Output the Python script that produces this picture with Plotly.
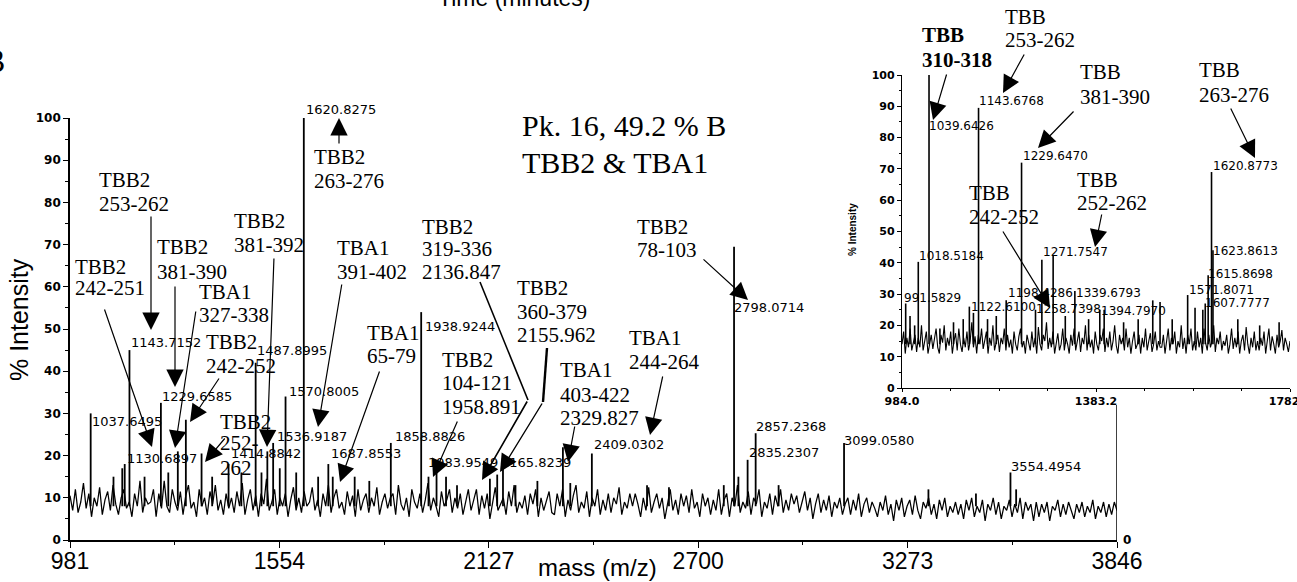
import numpy as np
import plotly.graph_objects as go

W, H = 1297, 582

# ---------------- main spectrum (981 - 3846 m/z) ----------------
main_range = [981, 3846]
main_ticks = [981, 1554, 2127, 2700, 3273, 3846]

main_noise = [
    10.5, 7, 12, 6.5, 9, 13.5, 7.5, 11, 5.5, 10, 8, 12.5, 6, 9.5, 11.5, 7, 13, 8.5, 6, 10, 12, 7.5, 9, 5.5, 11, 8, 14, 6.5, 10, 8.5,
    9, 12, 5.5, 11, 7.5, 14, 8, 6.5, 12, 9, 7, 11.5, 6, 10.5, 13, 7.5, 9, 5.5, 12, 8, 10, 6, 11.5, 8.5, 13, 7, 9.5, 6, 11, 7.5,
    10, 6.5, 11.5, 8, 13.5, 6, 9.5, 12, 7, 10.5, 5.5, 11, 8.5, 14.5, 7, 9, 12, 6, 10, 8, 11, 5.5, 9.5, 12.5, 7, 10, 6.5, 11.5, 8, 9,
    12.5, 7, 9.5, 5.5, 11, 8, 13, 6.5, 10, 12, 7.5, 9, 6, 11.5, 8, 10.5, 5.5, 12, 7, 9.5, 11, 6.5, 10, 8, 12.5, 6, 9, 11, 7.5, 10,
    11, 6, 13, 8.5, 7, 10, 5.5, 12, 9, 7.5, 11, 6.5, 9.5, 13.5, 7, 10, 8, 5.5, 11.5, 8, 9.5, 12, 6.5, 10, 7.5, 11, 6, 9, 12, 7,
    9.5, 12, 6, 10.5, 7.5, 11, 5, 9, 12.5, 7, 8.5, 10, 6, 11.5, 8, 13, 6.5, 9, 7.5, 10.5, 6, 11, 8.5, 12, 5.5, 10, 7, 9.5, 11.5, 6.5,
    6, 11, 8, 12, 5.5, 9.5, 7, 10.5, 13, 6.5, 9, 7.5, 11.5, 5.5, 10, 8, 12, 6, 9.5, 7, 11, 6.5, 10, 8.5, 12.5, 6, 9, 7.5, 11, 8,
    11, 8.5, 5.5, 10, 7, 12.5, 6.5, 9, 11, 7.5, 10, 5, 8.5, 12, 7, 9.5, 6, 11, 8, 10.5, 6.5, 12, 7.5, 9, 5.5, 11, 8, 10, 6, 9.5,
    7, 12, 6, 9.5, 11, 5.5, 10, 8, 13, 6.5, 9, 7.5, 11.5, 6, 10, 8.5, 12, 5.5, 9, 7.5, 11, 6, 10.5, 8, 12, 6.5, 9.5, 7, 11, 8.5,
    10.5, 6.5, 9, 11.5, 7, 10, 5, 8.5, 11, 6.5, 9.5, 7, 10.5, 5.5, 9, 7.5, 10, 6, 8.5, 10, 6, 9.5, 7, 11, 5.5, 8.5, 10, 6.5, 9, 7.5,
    5.5, 9, 7, 10.5, 6, 8.5, 4.5, 9.5, 7, 10, 5.5, 8, 9.5, 6, 10.5, 7, 5, 9, 7.5, 10, 6, 8.5, 5, 9.5, 7, 10, 5.5, 8, 6.5, 9,
    6, 8.5, 5, 9.5, 7, 10, 5.5, 8, 6.5, 9.5, 4.5, 8.5, 7, 10, 6, 9, 5, 8, 7, 9.5, 5.5, 8.5, 6.5, 10, 5, 9, 7, 8.5, 4.5, 9,
    5.5, 8.5, 6.5, 9, 4.5, 8, 7, 9.5, 5.5, 8.5, 6, 9, 7, 5, 8.5, 6.5, 9, 5.5, 8, 6.5, 9.5, 5, 8, 6.5, 9, 5.5, 8.5, 6, 9, 7,
]

main_peak_mass = [1037.6, 1100, 1124, 1130.7, 1143.7, 1185, 1229.7, 1250, 1276, 1298,
                  1341, 1370, 1414.9, 1450, 1489, 1505, 1521, 1536.9, 1555, 1570.8,
                  1600, 1620.8, 1660, 1687.9, 1700, 1760, 1800, 1858.9, 1942, 1962,
                  1984, 2010, 2040, 2130, 2150, 2165.8, 2200, 2260, 2329.8, 2350,
                  2409, 2560, 2620, 2770, 2798.1, 2810, 2835.2, 2857.2, 2920, 3099.1,
                  3330, 3460, 3554.5, 3570]
main_peak_int = [30, 15, 17, 18, 45, 15, 32.5, 16, 21, 28.5,
                 20.5, 15, 18, 16, 42, 16, 21, 23, 17, 34,
                 16, 100, 15, 18, 15, 15, 14, 23, 54, 15,
                 16, 15, 13, 14.5, 15.5, 17, 13, 14, 22, 13.5,
                 20.5, 13, 12.5, 13, 69.5, 15, 19, 25.3, 13, 23,
                 12, 11, 16, 12]

main_label_text = ["1037.6495", "1130.6897", "1143.7152", "1229.6585", "1414.8842",
                   "1487.8995", "1536.9187", "1570.8005", "1620.8275", "1687.8553",
                   "1858.8826", "1938.9244", "1983.9549", "2165.8239", "2409.0302",
                   "2798.0714", "2835.2307", "2857.2368", "3099.0580", "3554.4954"]
main_label_mass = [1037.6, 1135, 1144, 1230, 1419, 1490, 1545, 1577, 1624, 1692,
                   1868, 1950, 1958, 2158, 2412, 2795, 2836, 2855, 3096, 3553]
main_label_int = [28.0, 19.2, 46.8, 34.1, 20.4, 44.8, 24.6, 35.3, 102.1, 20.4,
                  24.6, 50.5, 18.4, 18.4, 22.7, 55.1, 20.7, 27.0, 23.5, 17.5]

# ---------------- inset spectrum (984.0 - 1782.4 m/z) ----------------
inset_range = [984.0, 1782.4]
inset_ticks = [984.0, 1383.2, 1782.4]

inset_noise = [
    14, 18, 11, 16, 13, 19, 12, 15, 17, 11.5, 16, 13, 20, 12, 15.5, 18, 11, 14, 17, 12.5,
    16, 19, 13, 11, 17, 14.5, 20, 12, 16, 13.5, 18, 11, 15, 17.5, 12, 19, 14, 11.5, 16, 13,
    18, 12, 15, 21, 13, 16.5, 11, 17, 14, 19, 12.5, 15, 18, 11, 16, 13.5, 20, 12, 15, 17,
    11.5, 16, 14, 19, 12, 17, 13, 15.5, 11, 18, 14, 12, 16.5, 19, 13, 15, 11, 17, 14.5, 12,
    18, 13, 16, 11, 19.5, 14, 12, 17, 15, 21, 12.5, 16, 13, 18, 11, 15, 17.5, 12, 14, 19,
    12, 16, 14, 11, 17, 13.5, 19, 12, 15, 18, 11.5, 16, 14, 20, 12, 17, 13, 15.5, 11, 18,
    14, 12, 17, 15, 19, 11.5, 16, 13, 18, 12, 15, 20, 13.5, 11, 17, 14, 16, 12, 19, 13,
    16, 11, 15, 18, 12.5, 14, 17, 11, 16, 13, 19, 12, 15, 17.5, 11.5, 14, 18, 12, 15, 13,
    13, 17, 11, 15.5, 19, 12, 16, 14, 18, 11, 15, 13, 20, 12.5, 16, 11, 17, 14, 19, 12,
    15, 12, 18, 13, 16, 11, 19, 14.5, 12, 17, 13, 15, 20, 11.5, 16, 14, 18, 12, 15, 13.5,
    17, 11, 14, 19, 12.5, 16, 13, 18, 11, 15, 17, 12, 19.5, 14, 11, 16, 13, 18, 12, 15,
    12, 16, 13.5, 18, 11, 15, 19, 12, 16.5, 14, 11, 17, 13, 15, 18.5, 12, 16, 14, 11.5, 15,
]

inset_peak_mass = [991.6, 1000.5, 1010, 1017.5, 1039.6, 1062, 1090, 1110, 1122.6, 1131,
                   1141.5, 1160, 1178, 1198.4, 1230, 1258.7, 1271.8, 1295, 1320, 1339.7,
                   1368, 1391, 1400, 1440, 1470, 1500, 1515, 1540, 1571.8, 1587,
                   1603, 1608, 1614, 1620.9, 1623.9, 1675, 1720, 1760]
inset_peak_int = [27, 23, 20, 40.3, 100, 19, 21, 22, 26, 24,
                  89.5, 22, 23, 28, 72, 25, 41, 42.5, 23, 31,
                  22, 25, 25, 21, 22, 28, 27.5, 22, 29.7, 25.6,
                  25, 27, 36, 69, 44, 22, 20, 21]

inset_label_text = ["991.5829", "1018.5184", "1039.6426", "1122.6100", "1143.6768",
                    "1198.4286", "1229.6470", "1258.7398", "1271.7547", "1339.6793",
                    "1394.7970", "1571.8071", "1607.7777", "1615.8698", "1620.8773",
                    "1623.8613"]
inset_label_mass = [987, 1017, 1037.5, 1124, 1140, 1200, 1231, 1258, 1272, 1340,
                    1391, 1572.5, 1605, 1611, 1622, 1622]
inset_label_int = [28.9, 42.2, 83.7, 25.9, 91.7, 30.5, 74.1, 25.2, 43.3, 30.5,
                   24.6, 31.3, 27.3, 36.4, 70.9, 43.8]


def sticks(masses, ints, base):
    xs, ys = [], []
    for m, v in zip(masses, ints):
        xs += [m, m, None]
        ys += [base, v, None]
    return xs, ys


def px(x):
    return x / W


def py(y):
    return 1 - y / H


MAIN_PX_PER_UNIT = (540 - 118) / 100.0

fig = go.Figure()

main_x = np.linspace(main_range[0], main_range[1], len(main_noise))
fig.add_trace(go.Scatter(x=main_x, y=main_noise, mode="lines",
                         line=dict(color="black", width=1.25), xaxis="x", yaxis="y",
                         hoverinfo="skip"))
sx, sy = sticks(main_peak_mass, main_peak_int, 8)
fig.add_trace(go.Scatter(x=sx, y=sy, mode="lines", line=dict(color="black", width=1.8),
                         xaxis="x", yaxis="y", hoverinfo="skip"))

inset_x = np.linspace(inset_range[0], inset_range[1], len(inset_noise))
fig.add_trace(go.Scatter(x=inset_x, y=inset_noise, mode="lines",
                         line=dict(color="black", width=1.1), xaxis="x2", yaxis="y2",
                         hoverinfo="skip"))
ix, iy = sticks(inset_peak_mass, inset_peak_int, 14)
fig.add_trace(go.Scatter(x=ix, y=iy, mode="lines", line=dict(color="black", width=1.6),
                         xaxis="x2", yaxis="y2", hoverinfo="skip"))

# peak mass labels (labels above the axis top are shifted in pixels so they stay visible)
for t, m, v in zip(main_label_text, main_label_mass, main_label_int):
    over = max(0.0, v - 100)
    fig.add_annotation(x=m, y=min(v, 100), xref="x", yref="y", text=t, showarrow=False,
                       xanchor="left", yanchor="middle", xshift=-1,
                       yshift=over * MAIN_PX_PER_UNIT,
                       font=dict(family="DejaVu Sans", size=13, color="black"))
for t, m, v in zip(inset_label_text, inset_label_mass, inset_label_int):
    fig.add_annotation(x=m, y=v, xref="x2", yref="y2", text=t, showarrow=False,
                       xanchor="left", yanchor="middle", xshift=-1,
                       font=dict(family="DejaVu Sans", size=12, color="black"))

SERIF = "Liberation Serif"


def add_text(lines, x, ys, size=21, bold=False, family=SERIF):
    for line, y in zip(lines, ys):
        fig.add_annotation(x=px(x), y=py(y), xref="paper", yref="paper", text=line,
                           showarrow=False, xanchor="left", yanchor="middle",
                           font=dict(family=family, size=size, color="black",
                                     weight="bold" if bold else "normal"))


def add_arrow(tail, tip, width=1.2):
    fig.add_annotation(x=px(tip[0]), y=py(tip[1]), xref="paper", yref="paper",
                       ax=tail[0] - tip[0], ay=tail[1] - tip[1], axref="pixel",
                       ayref="pixel", text="", showarrow=True, arrowhead=2,
                       arrowsize=2.9 * 1.2 / width, arrowwidth=width,
                       arrowcolor="black", standoff=0)


def add_seg(p0, p1, width=1.2):
    fig.add_shape(type="line", xref="paper", yref="paper", x0=px(p0[0]), y0=py(p0[1]),
                  x1=px(p1[0]), y1=py(p1[1]), line=dict(color="black", width=width))


# main peptide annotations
add_text(["TBB2", "253-262"], 97, [180, 204])
add_arrow((151, 215), (151, 330))
add_text(["TBB2", "242-251"], 73, [267, 288])
add_arrow((104, 308), (152, 447))
add_text(["TBB2", "381-390"], 155, [247, 272])
add_arrow((175, 285), (175, 387))
add_text(["TBA1", "327-338"], 197, [292, 315])
add_arrow((196, 310), (175, 448))
add_text(["TBB2", "242-252"], 204, [342, 366])
add_arrow((220, 377), (190, 422))
add_text(["TBB2", "252-", "262"], 218, [422, 443, 468])
add_arrow((226, 437), (205, 462))
add_text(["TBB2", "381-392"], 232, [221, 245])
add_arrow((274, 257), (267, 447))
add_text(["TBB2", "263-276"], 312, [157, 181])
add_arrow((339, 145), (339, 118))
add_text(["TBA1", "391-402"], 335, [248, 272])
add_arrow((342, 283), (318, 427))
add_text(["TBA1", "65-79"], 365, [333, 356])
add_arrow((380, 370), (340, 482))
add_text(["TBB2", "319-336", "2136.847"], 420, [227, 249, 272])
add_seg((480, 282), (528, 400), 1.6)
add_arrow((528, 400), (482, 480), 1.6)
add_text(["TBB2", "104-121", "1958.891"], 440, [360, 383, 407])
add_arrow((458, 420), (433, 477))
add_text(["TBB2", "360-379", "2155.962"], 515, [288, 312, 335])
add_seg((547, 348), (543, 402), 2.4)
add_arrow((543, 402), (500, 472), 1.4)
add_text(["TBA1", "403-422", "2329.827"], 558, [370, 395, 418])
add_arrow((575, 425), (568, 462))
add_text(["TBA1", "244-264"], 627, [338, 362])
add_arrow((663, 375), (650, 435))
add_text(["TBB2", "78-103"], 635, [227, 250])
add_arrow((702, 258), (748, 300))
add_text(["Pk. 16, 49.2 % B", "TBB2 & TBA1"], 520, [125, 162], size=30)

# inset peptide annotations
add_text(["TBB", "310-318"], 920, [35, 60], bold=True)
add_arrow((947, 73), (933, 120))
add_text(["TBB", "253-262"], 1003, [17, 40])
add_arrow((1025, 53), (1003, 93))
add_text(["TBB", "381-390"], 1078, [72, 97])
add_arrow((1075, 110), (1038, 148))
add_text(["TBB", "263-276"], 1197, [70, 95])
add_arrow((1230, 107), (1255, 158))
add_text(["TBB", "242-252"], 967, [193, 217])
add_arrow((1002, 230), (1050, 308))
add_text(["TBB", "252-262"], 1075, [180, 203])
add_arrow((1102, 213), (1095, 247))


def add_title(text, x, y, size, angle=0, bold=False):
    fig.add_annotation(x=px(x), y=py(y), xref="paper", yref="paper", text=text,
                       showarrow=False, textangle=angle, xanchor="center",
                       yanchor="middle",
                       font=dict(family="Liberation Sans", size=size, color="black",
                                 weight="bold" if bold else "normal"))


add_title("% Intensity", 19, 320, 25, angle=-90)
add_title("mass (m/z)", 597, 567, 24)
add_title("% Intensity", 853, 230, 10, angle=-90, bold=True)
add_title("Time (minutes)", 514, -2, 23)
fig.add_annotation(x=px(7), y=py(61), xref="paper", yref="paper", text="B",
                   showarrow=False, xanchor="right", yanchor="middle",
                   font=dict(family="Liberation Sans", size=32, color="black"))

# right-hand frame of the main panel
fig.add_shape(type="line", xref="x", yref="y", x0=3846, x1=3846, y0=0, y1=32,
              line=dict(color="black", width=1.5))
fig.add_annotation(x=3846, y=0, xref="x", yref="y", text="0", showarrow=False,
                   xanchor="left", yanchor="middle", xshift=4,
                   font=dict(family="DejaVu Sans", size=12, color="black", weight="bold"))

axis_common = dict(showgrid=False, zeroline=False, showline=True, linecolor="black",
                   ticks="outside", tickcolor="black", automargin=False)

fig.update_layout(
    width=W, height=H, margin=dict(l=0, r=0, t=0, b=0, autoexpand=False),
    paper_bgcolor="white", plot_bgcolor="rgba(0,0,0,0)", showlegend=False,
    xaxis=dict(domain=[px(70), px(1117)], range=main_range, anchor="y",
               tickvals=main_ticks, ticklen=6, linewidth=1.6, ticklabelstandoff=-6,
               tickfont=dict(family="Liberation Sans", size=23, color="black"),
               minor=dict(ticks="outside", tick0=981, dtick=286.5, ticklen=3,
                          tickcolor="black"),
               **axis_common),
    yaxis=dict(domain=[py(540), py(118)], range=[0, 100], anchor="x",
               dtick=10, ticklen=5, linewidth=1.6,
               tickfont=dict(family="DejaVu Sans", size=12, color="black", weight="bold"),
               minor=dict(ticks="outside", dtick=5, ticklen=3, tickcolor="black"),
               **axis_common),
    xaxis2=dict(domain=[px(902), px(1290)], range=inset_range, anchor="y2",
                tickvals=inset_ticks, ticktext=["984.0", "1383.2", "1782.4"],
                ticklen=3, linewidth=1.4, ticklabeloverflow="allow",
                tickfont=dict(family="DejaVu Sans", size=11, color="black", weight="bold"),
                minor=dict(ticks="outside", tick0=984.0, dtick=99.8, ticklen=2,
                           tickcolor="black"),
                **axis_common),
    yaxis2=dict(domain=[py(388), py(75)], range=[0, 100], anchor="x2",
                dtick=10, ticklen=4, linewidth=1.4,
                tickfont=dict(family="DejaVu Sans", size=11, color="black", weight="bold"),
                minor=dict(ticks="outside", dtick=5, ticklen=2, tickcolor="black"),
                **axis_common),
)

fig.write_html("out.html")
